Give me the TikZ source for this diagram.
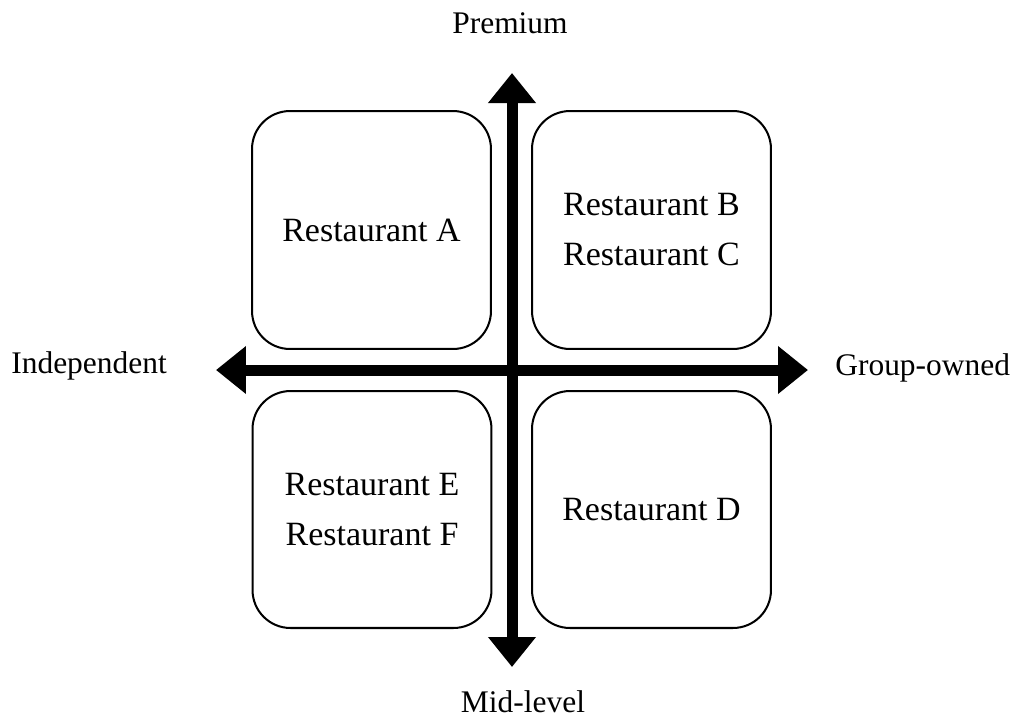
\documentclass[tikz,border=0pt]{standalone}
\usepackage{fontspec}
\setmainfont{Liberation Serif}
\usetikzlibrary{arrows.meta, positioning}

\tikzset{
    quadrant/.style={draw, line width=1.15pt, rounded corners=0.76cm, align=center,
        minimum width=4.78cm, minimum height=4.76cm, inner sep=0pt,
        font=\fontsize{19.35}{28.45}\selectfont},
    axislabel/.style={inner sep=0pt, font=\fontsize{17.9}{21}\selectfont},
    axisarrow/.style={line width=6.26pt, {Triangle[length=0.6cm,width=0.92cm]}-{Triangle[length=0.6cm,width=0.92cm]}}
}

\begin{document}
\begin{tikzpicture}[x=0.02cm, y=-0.02cm]
    \useasboundingbox (0,0) rectangle (1018,718);

    % axis ends
    \coordinate (top) at (512,73);
    \coordinate (bottom) at (512,667);
    \coordinate (left) at (216,370);
    \coordinate (right) at (808,370);

    % the four quadrants
    \node[quadrant] (qA) at (371.5,230) {Restaurant A};
    \node[quadrant] (qBC) at (651.5,230) {Restaurant B\\Restaurant C};
    \node[quadrant, minimum height=4.74cm] (qEF) at (372,509.5) {Restaurant E\\Restaurant F};
    \node[quadrant, minimum height=4.74cm] (qD) at (651.5,509.5) {Restaurant D};

    % axes
    \draw[axisarrow] (bottom) -- (top);
    \draw[axisarrow] (left) -- (right);

    % axis labels
    \node[axislabel, anchor=base] (premium) at (510,33) {Premium};
    \node[axislabel, anchor=base] (midlevel) at (523,712) {Mid-level};
    \node[axislabel, anchor=base west] (independent) at (11,373) {Independent};
    \node[axislabel, anchor=base west] (groupowned) at (835,375) {Group-owned};
\end{tikzpicture}
\end{document}
